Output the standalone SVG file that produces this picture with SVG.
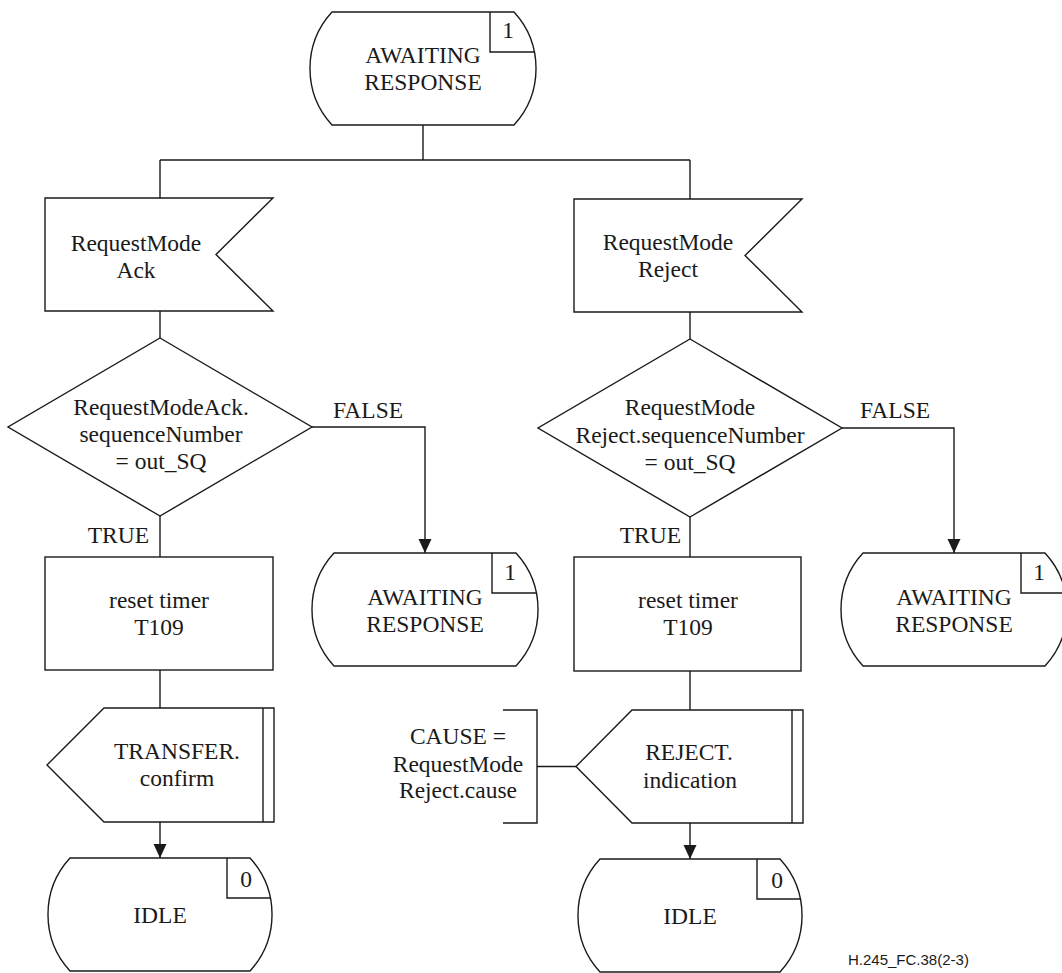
<svg xmlns="http://www.w3.org/2000/svg" width="1062" height="973" viewBox="0 0 1062 973">
<defs>
<style>
.s{fill:#fff;stroke:#1a1a1a;stroke-width:1.4}
.n{fill:none;stroke:#1a1a1a;stroke-width:1.4}
.t{font-family:"Liberation Serif","Times New Roman",serif;font-size:23.5px;fill:#1a1a1a;text-anchor:middle}
.l{font-family:"Liberation Serif","Times New Roman",serif;font-size:23.5px;fill:#1a1a1a}
.f{font-family:"Liberation Sans",Arial,sans-serif;font-size:15px;fill:#1a1a1a}
</style>
<marker id="arr" viewBox="0 0 14 14" markerWidth="14" markerHeight="14" refX="14" refY="7" orient="auto" markerUnits="userSpaceOnUse">
<path d="M0,0.5 L14,7 L0,13.5 Z" fill="#1a1a1a"/>
</marker>
</defs>
<rect width="1062" height="973" fill="#fff"/>

<g id="connectors">
<path class="n" d="M423,125 V160 M160,160 H690 M160,160 V198 M690,160 V199"/>
<path class="n" d="M160,311 V338"/>
<path class="n" d="M690,312 V339"/>
<path class="n" d="M160,516 V557"/>
<path class="n" d="M690,517 V557"/>
<path class="n" d="M312,427 H425 V553" marker-end="url(#arr)"/>
<path class="n" d="M842,428 H954 V553" marker-end="url(#arr)"/>
<path class="n" d="M160,670 V708"/>
<path class="n" d="M690,671 V710"/>
<path class="n" d="M160,822 V858" marker-end="url(#arr)"/>
<path class="n" d="M690,823 V859" marker-end="url(#arr)"/>
<path class="n" d="M537,766.5 H576"/>
<text class="l" x="333" y="418">FALSE</text>
<text class="l" x="860" y="418">FALSE</text>
<text class="l" x="149" y="543" text-anchor="end">TRUE</text>
<text class="l" x="681" y="543" text-anchor="end">TRUE</text>
</g>

<g id="state-top">
<path class="s" d="M332,12 H514 A83.5,83.5 0 0 1 514,125 H332 A83.5,83.5 0 0 1 332,12 Z"/>
<path class="n" d="M490,12 V52 H534.4"/>
<text class="t" x="508" y="38">1</text>
<text class="t" x="423" y="63">AWAITING</text>
<text class="t" x="423" y="90">RESPONSE</text>
</g>

<g id="input-ack">
<path class="s" d="M45,198 H273 L216,254.5 L273,311 H45 Z"/>
<text class="t" x="136" y="251">RequestMode</text>
<text class="t" x="136" y="278">Ack</text>
</g>

<g id="input-reject">
<path class="s" d="M574,199 H802 L745,255.5 L802,312 H574 Z"/>
<text class="t" x="668" y="250">RequestMode</text>
<text class="t" x="668" y="277">Reject</text>
</g>

<g id="decision-ack">
<path class="s" d="M160,338 L312,427 L160,516 L8,427 Z"/>
<text class="t" x="161" y="415">RequestModeAck.</text>
<text class="t" x="161" y="442">sequenceNumber</text>
<text class="t" x="161" y="469">= out_SQ</text>
</g>

<g id="decision-reject">
<path class="s" d="M690,339 L842,428 L690,517 L538,428 Z"/>
<text class="t" x="690" y="415">RequestMode</text>
<text class="t" x="690" y="443">Reject.sequenceNumber</text>
<text class="t" x="690" y="470">= out_SQ</text>
</g>

<g id="state-awaiting-1">
<path class="s" d="M334,553 H516 A83.5,83.5 0 0 1 516,666 H334 A83.5,83.5 0 0 1 334,553 Z"/>
<path class="n" d="M492,553 V593 H536.4"/>
<text class="t" x="510" y="580">1</text>
<text class="t" x="425" y="605">AWAITING</text>
<text class="t" x="425" y="632">RESPONSE</text>
</g>

<g id="state-awaiting-2">
<path class="s" d="M863,553 H1045 A83.5,83.5 0 0 1 1045,666 H863 A83.5,83.5 0 0 1 863,553 Z"/>
<path class="n" d="M1021,553 V593 H1065.4"/>
<text class="t" x="1039" y="580">1</text>
<text class="t" x="954" y="605">AWAITING</text>
<text class="t" x="954" y="632">RESPONSE</text>
</g>

<g id="task-ack">
<rect class="s" x="45" y="557" width="228" height="113"/>
<text class="t" x="159" y="608">reset timer</text>
<text class="t" x="159" y="635">T109</text>
</g>

<g id="task-reject">
<rect class="s" x="574" y="557" width="227" height="114"/>
<text class="t" x="688" y="608">reset timer</text>
<text class="t" x="688" y="635">T109</text>
</g>

<g id="output-transfer">
<path class="s" d="M104,708 H274 V822 H104 L47,765 Z"/>
<path class="n" d="M263,708 V822"/>
<text class="t" x="177" y="759">TRANSFER.</text>
<text class="t" x="177" y="786">confirm</text>
</g>

<g id="output-reject">
<path class="s" d="M632,710 H803 V823 H632 L576,766.5 Z"/>
<path class="n" d="M792,710 V823"/>
<text class="t" x="689" y="760">REJECT.</text>
<text class="t" x="690" y="788">indication</text>
</g>

<g id="comment-cause">
<path class="n" d="M503,710 H537 V823 H503"/>
<text class="t" x="458" y="744">CAUSE =</text>
<text class="t" x="458" y="772">RequestMode</text>
<text class="t" x="458" y="798">Reject.cause</text>
</g>

<g id="state-idle-1">
<path class="s" d="M70,858 H250 A83.5,83.5 0 0 1 250,971 H70 A83.5,83.5 0 0 1 70,858 Z"/>
<path class="n" d="M227,858 V898 H270.4"/>
<text class="t" x="246" y="887">0</text>
<text class="t" x="160" y="923">IDLE</text>
</g>

<g id="state-idle-2">
<path class="s" d="M600,859 H780 A83.5,83.5 0 0 1 780,972 H600 A83.5,83.5 0 0 1 600,859 Z"/>
<path class="n" d="M757,859 V899 H800.4"/>
<text class="t" x="777" y="888">0</text>
<text class="t" x="690" y="924">IDLE</text>
</g>

<text class="f" x="848" y="965">H.245_FC.38(2-3)</text>
</svg>
